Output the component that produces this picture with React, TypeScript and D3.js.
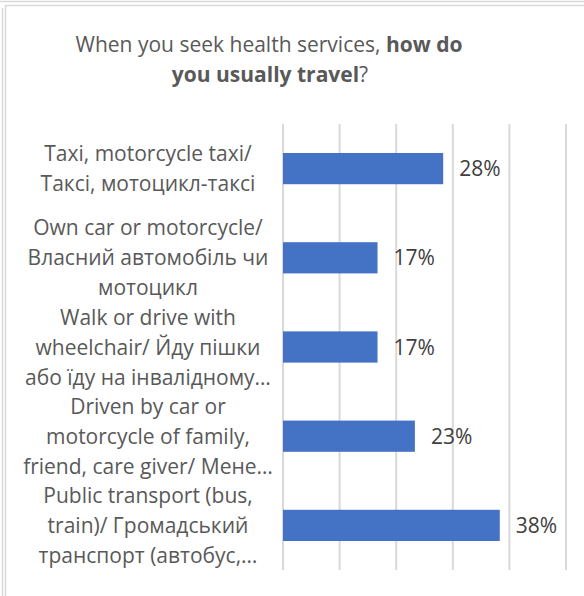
import React, { useRef, useEffect } from "react";
import * as d3 from "d3";

const ChartConfig = {
  width: 584,
  height: 596,
  plotLeft: 283,
  plotRight: 566,
  plotTop: 124,
  plotBottom: 570,
  labelCenter: 148,
};

// wrapped category labels, one array of lines per bar
const categories = [
  ["Taxi, motorcycle taxi/", "Таксі, мотоцикл-таксі"],
  ["Own car or motorcycle/", "Власний автомобіль чи", "мотоцикл"],
  ["Walk or drive with", "wheelchair/ Йду пішки", "або їду на інвалідному…"],
  ["Driven by car or", "motorcycle of family,", "friend, care giver/ Мене…"],
  ["Public transport (bus,", "train)/ Громадський", "транспорт (автобус,…"],
];

const shares = [0.283, 0.167, 0.167, 0.233, 0.383];

const xTicks = [0, 0.1, 0.2, 0.3, 0.4, 0.5];

const font = "'Open Sans', sans-serif";

const TravelChart = () => {
  const ref = useRef<SVGSVGElement>(null);

  useEffect(() => {
    document.body.style.margin = "0";

    const svg = d3
      .select(ref.current)
      .attr("width", ChartConfig.width)
      .attr("height", ChartConfig.height);
    svg.selectAll("*").remove();

    svg
      .append("rect")
      .attr("width", ChartConfig.width)
      .attr("height", ChartConfig.height)
      .attr("fill", "#fff");

    // sheet / chart borders
    svg
      .append("path")
      .attr("d", "M0,1.5H584M2.5,8V596")
      .attr("stroke", "#d9d9d9")
      .attr("stroke-width", 1.5)
      .attr("fill", "none");
    svg
      .append("path")
      .attr("d", "M5.5,596V5.5H584")
      .attr("stroke", "#d9d9d9")
      .attr("stroke-width", 1.5)
      .attr("fill", "none");

    const x = d3
      .scaleLinear()
      .domain([0, 0.5])
      .range([ChartConfig.plotLeft, ChartConfig.plotRight]);

    const y = d3
      .scaleBand<number>()
      .domain(d3.range(categories.length))
      .range([ChartConfig.plotTop, ChartConfig.plotBottom])
      .paddingInner(0.65)
      .paddingOuter(0.325);

    // title
    const title = svg
      .append("text")
      .attr("x", 269)
      .attr("y", 52)
      .attr("text-anchor", "middle")
      .attr("font-family", font)
      .attr("font-size", 21)
      .attr("fill", "#595959");
    title.append("tspan").text("When you seek health services, ");
    title.append("tspan").attr("font-weight", "bold").text("how do");
    const title2 = svg
      .append("text")
      .attr("x", 270)
      .attr("y", 82)
      .attr("text-anchor", "middle")
      .attr("font-family", font)
      .attr("font-size", 21)
      .attr("fill", "#595959");
    title2.append("tspan").attr("font-weight", "bold").text("you usually travel");
    title2.append("tspan").text("?");

    // gridlines
    svg
      .append("g")
      .selectAll("line")
      .data(xTicks)
      .enter()
      .append("line")
      .attr("x1", (d) => x(d))
      .attr("x2", (d) => x(d))
      .attr("y1", ChartConfig.plotTop)
      .attr("y2", ChartConfig.plotBottom)
      .attr("stroke", "#d9d9d9")
      .attr("stroke-width", 2);

    // bars
    svg
      .append("g")
      .selectAll("rect")
      .data(shares)
      .enter()
      .append("rect")
      .attr("x", x(0))
      .attr("y", (_d, i) => y(i) as number)
      .attr("width", (d) => x(d) - x(0))
      .attr("height", y.bandwidth())
      .attr("fill", "#4472c4");

    // value labels
    svg
      .append("g")
      .selectAll("text")
      .data(shares)
      .enter()
      .append("text")
      .attr("x", (d) => x(d) + 16)
      .attr("y", (_d, i) => (y(i) as number) + y.bandwidth() / 2)
      .attr("dy", "0.36em")
      .attr("font-family", font)
      .attr("font-size", 21)
      .attr("fill", "#404040")
      .text((d) => d3.format(".0%")(d));

    // category labels
    const lineH = 30;
    const cat = svg
      .append("g")
      .selectAll("text")
      .data(categories)
      .enter()
      .append("text")
      .attr("text-anchor", "middle")
      .attr("font-family", font)
      .attr("font-size", 21)
      .attr("fill", "#595959");
    cat.each(function (lines, i) {
      const mid = (y(i) as number) + y.bandwidth() / 2;
      const top = mid - ((lines.length - 1) * lineH) / 2;
      d3.select(this)
        .selectAll("tspan")
        .data(lines)
        .enter()
        .append("tspan")
        .attr("x", ChartConfig.labelCenter)
        .attr("y", (_l, j) => top + j * lineH)
        .attr("dy", "0.36em")
        .text((l) => l);
    });
  }, []);

  return <svg ref={ref} style={{ display: "block" }}></svg>;
};

export default function App() {
  return <TravelChart />;
}
